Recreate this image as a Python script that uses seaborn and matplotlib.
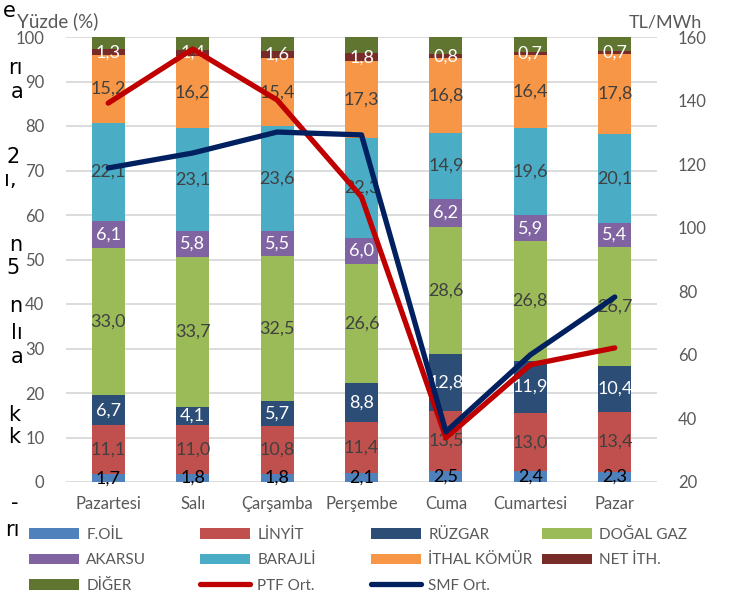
import numpy as np
import pandas as pd
import matplotlib
matplotlib.use("Agg")
import matplotlib.pyplot as plt
from matplotlib.patches import Patch
from matplotlib.lines import Line2D
import seaborn as sns

# gunluk uretim payi (%) ve ortalama fiyatlar (TL/MWh)
gunler = ["Pazartesi", "Salı", "Çarşamba", "Perşembe", "Cuma", "Cumartesi", "Pazar"]
kaynaklar = ["F.OİL", "LİNYİT", "RÜZGAR", "DOĞAL GAZ", "AKARSU", "BARAJLİ",
             "İTHAL KÖMÜR", "NET İTH.", "DİĞER"]

f_oil = [1.7, 1.8, 1.8, 2.1, 2.5, 2.4, 2.3]
linyit = [11.1, 11.0, 10.8, 11.4, 13.5, 13.0, 13.4]
ruzgar = [6.7, 4.1, 5.7, 8.8, 12.8, 11.9, 10.4]
dogal_gaz = [33.0, 33.7, 32.5, 26.6, 28.6, 26.8, 26.7]
akarsu = [6.1, 5.8, 5.5, 6.0, 6.2, 5.9, 5.4]
barajli = [22.1, 23.1, 23.6, 22.3, 14.9, 19.6, 20.1]
ithal_komur = [15.2, 16.2, 15.4, 17.3, 16.8, 16.4, 17.8]
net_ith = [1.3, 1.4, 1.6, 1.8, 0.8, 0.7, 0.7]
diger = [2.8, 2.9, 3.1, 3.7, 3.9, 3.3, 3.2]

ptf_ort = [139.2, 156.2, 140.2, 109.7, 33.9, 56.9, 62.2]
smf_ort = [118.8, 123.5, 130.1, 129.2, 35.8, 60.0, 78.2]

renkler = ["#4F81BD", "#C0504D", "#2C4D75", "#9BBB59", "#8064A2", "#4BACC6",
           "#F79646", "#772C2A", "#5F7530"]
etiket_renk = ["black", "#404040", "white", "#404040", "white", "#404040",
               "#404040", "white", None]

GRI = "#595959"

sns.set_theme(style="white")
plt.rcParams["font.family"] = ["Lato", "DejaVu Sans"]

df = pd.DataFrame(
    dict(zip(kaynaklar, [f_oil, linyit, ruzgar, dogal_gaz, akarsu, barajli,
                         ithal_komur, net_ith, diger])),
    index=gunler,
)
kumulatif = df.cumsum(axis=1)

fig, ax = plt.subplots(figsize=(7.33, 5.94), dpi=100)
fig.subplots_adjust(left=66 / 733, right=657 / 733, top=1 - 37 / 594, bottom=1 - 482 / 594)

# ust segmentten baslayarak kumulatif barlari ciz
for i in reversed(range(len(kaynaklar))):
    sns.barplot(x=gunler, y=kumulatif.iloc[:, i].values, color=renkler[i],
                saturation=1, width=0.39, linewidth=0, errorbar=None, ax=ax)

for i, kaynak in enumerate(kaynaklar):
    if etiket_renk[i] is None:
        continue
    alt = kumulatif.iloc[:, i] - df[kaynak]
    for j, deger in enumerate(df[kaynak]):
        ax.text(j, alt.iloc[j] + deger / 2, f"{deger:.1f}".replace(".", ","),
                ha="center", va="center", fontsize=13, color=etiket_renk[i])

ax.set_ylim(0, 100)
ax.set_yticks(range(0, 101, 10))
ax.yaxis.grid(True, color="#D9D9D9", linewidth=1.3)
ax.set_axisbelow(True)
ax.tick_params(axis="y", length=0, pad=15.5, labelsize=12, labelcolor=GRI)
ax.tick_params(axis="x", length=0, pad=10, labelsize=12, labelcolor=GRI)
ax.set_xlabel("")
ax.set_ylabel("")

ax2 = ax.twinx()
sns.lineplot(x=np.arange(len(gunler)), y=ptf_ort, color="#C00000", linewidth=3.8,
             solid_joinstyle="round", solid_capstyle="round", ax=ax2)
sns.lineplot(x=np.arange(len(gunler)), y=smf_ort, color="#002060", linewidth=3.8,
             solid_joinstyle="round", solid_capstyle="round", ax=ax2)
ax2.set_ylim(20, 160)
ax2.set_yticks(range(20, 161, 20))
ax2.tick_params(axis="y", length=0, pad=15, labelsize=12, labelcolor=GRI)
ax2.set_ylabel("")
ax.set_xlim(-0.5, len(gunler) - 0.5)

for a in (ax, ax2):
    for s in a.spines.values():
        s.set_visible(False)

fig.text(17 / 733, 1 - 21 / 594, "Yüzde (%)", ha="left", va="center",
         fontsize=13.5, color=GRI)
fig.text(702 / 733, 1 - 22 / 594, "TL/MWh", ha="right", va="center",
         fontsize=13, color=GRI)

# legend: 4 sutun
tutamaclar = [Patch(facecolor=r, edgecolor="none") for r in renkler]
tutamaclar += [Line2D([], [], color="#C00000", lw=3.8, solid_capstyle="round"),
               Line2D([], [], color="#002060", lw=3.8, solid_capstyle="round")]
isimler = kaynaklar + ["PTF Ort.", "SMF Ort."]
sutunlar = [[0, 4, 8], [1, 5, 9], [2, 6, 10], [3, 7]]
sutun_x = [29, 200, 371, 542]
for sx, idx in zip(sutun_x, sutunlar):
    fig.legend([tutamaclar[k] for k in idx], [isimler[k] for k in idx],
               loc="upper left", bbox_to_anchor=(sx / 733, 1 - 528 / 594),
               frameon=False, fontsize=11, labelcolor=GRI, borderpad=0,
               borderaxespad=0, handlelength=3.3, handleheight=0.7,
               handletextpad=0.45, labelspacing=0.74)

# soldaki kesik metin parcalari
parcalar = [("e", 16, 11), ("rı", 23, 68), ("a", 23, 92), ("2", 20, 157),
            ("ı,", 17, 180), ("n", 22, 245), ("5", 20, 268), ("n", 22, 306),
            ("lı", 23, 333), ("a", 23, 357), ("k", 20, 415), ("k", 20, 437),
            ("-", 18, 503), ("rı", 20, 530)]
for metin, px, py in parcalar:
    fig.text(px / 733, 1 - py / 594, metin, ha="right", va="center",
             fontsize=15, color="black", family="DejaVu Sans")

fig.savefig("out.png", dpi=100)
